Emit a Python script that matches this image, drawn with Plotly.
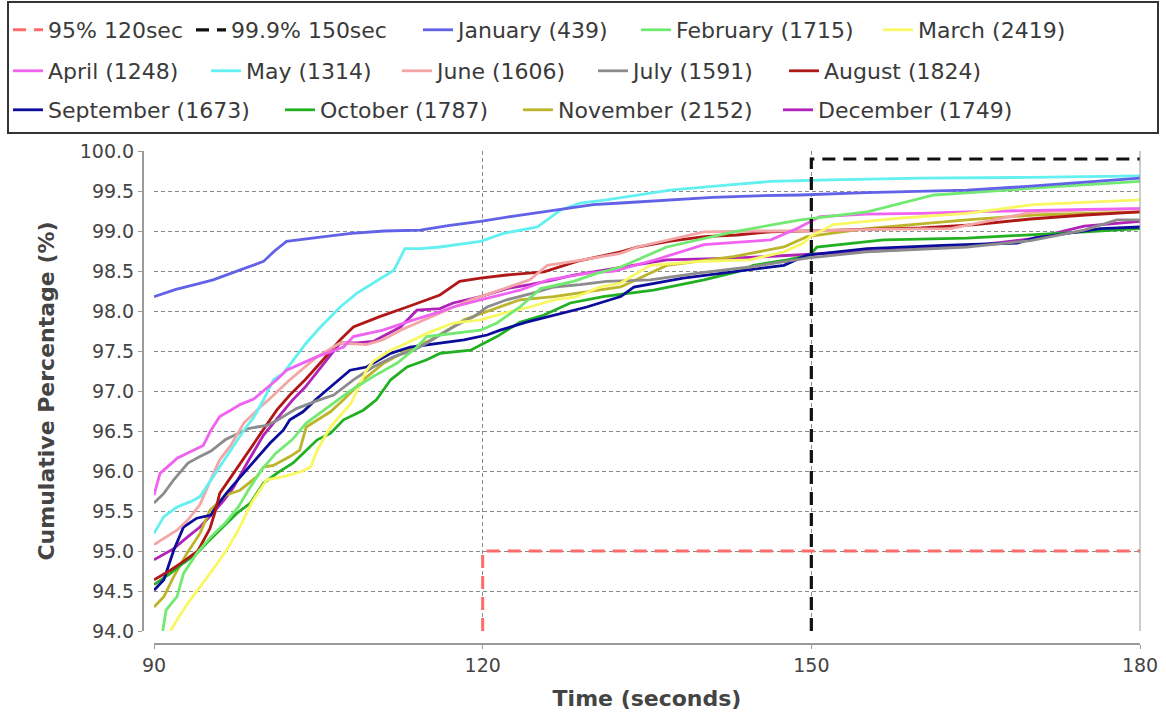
import plotly.graph_objects as go

# ---------------- data ----------------
thr95_x = [120, 120, 180]
thr95_y = [94.0, 95.0, 95.0]
thr999_x = [150, 150, 180]
thr999_y = [94.0, 99.9, 99.9]

jan_x = [90, 92, 94, 95.4, 98, 100, 101, 102.1, 105, 108, 111, 114.3, 117, 119.8, 123, 126.5, 130.1, 132.6, 137.1, 141, 145, 149, 155, 160, 164.2, 170, 175, 180]
jan_y = [98.18, 98.27, 98.34, 98.39, 98.52, 98.62, 98.75, 98.87, 98.92, 98.97, 99.0, 99.01, 99.07, 99.12, 99.19, 99.26, 99.33, 99.35, 99.39, 99.42, 99.44, 99.45, 99.48, 99.50, 99.51, 99.56, 99.61, 99.66]

feb_x = [90.8, 91.1, 92.1, 92.7, 93.9, 95.2, 96.5, 97.7, 98.6, 99.8, 101.1, 102.6, 103.9, 105.5, 108.0, 110.0, 112.2, 114.0, 114.9, 116.1, 119.8, 121.3, 123.4, 125.3, 128.3, 130.4, 132.6, 136.8, 142.9, 149.0, 155.1, 161.2, 167.3, 173, 180]
feb_y = [94.0, 94.26, 94.43, 94.72, 94.97, 95.18, 95.35, 95.55, 95.76, 96.01, 96.22, 96.39, 96.6, 96.76, 97.01, 97.18, 97.35, 97.55, 97.68, 97.7, 97.76, 97.85, 98.05, 98.28, 98.37, 98.47, 98.55, 98.8, 98.99, 99.14, 99.24, 99.45, 99.51, 99.56, 99.62]

mar_x = [91.5, 92.1, 93.1, 94.0, 94.9, 95.8, 96.8, 97.7, 98.3, 98.9, 99.6, 100.3, 101.8, 103.4, 104.3, 104.9, 106.1, 108.0, 109.4, 110.0, 111.6, 113.1, 114.9, 117.3, 119.8, 121.9, 124.3, 126.5, 128.6, 130.7, 132.6, 135.3, 139.9, 144.4, 147.5, 149.3, 149.9, 152.0, 158.1, 164.2, 170.3, 175, 180]
mar_y = [94.0, 94.14, 94.35, 94.51, 94.68, 94.85, 95.05, 95.26, 95.43, 95.6, 95.75, 95.89, 95.93, 95.99, 96.05, 96.26, 96.55, 96.85, 97.26, 97.37, 97.51, 97.6, 97.72, 97.85, 97.89, 97.97, 98.05, 98.14, 98.18, 98.3, 98.35, 98.57, 98.62, 98.64, 98.74, 98.85, 98.93, 99.08, 99.16, 99.22, 99.33, 99.36, 99.39]

apr_x = [90, 90.55, 91.8, 92.1, 93.6, 94.5, 95.2, 96.0, 97.0, 97.85, 99.1, 100.0, 101.2, 102.1, 103.5, 104.9, 107.3, 108.2, 110.9, 113.7, 116.1, 117.3, 119.8, 123.4, 126, 129.5, 132, 136, 140.2, 144, 146.3, 148.7, 150.8, 155, 160, 164.2, 170, 175, 180]
apr_y = [95.7, 95.97, 96.12, 96.16, 96.26, 96.32, 96.51, 96.68, 96.76, 96.83, 96.9, 97.0, 97.14, 97.26, 97.35, 97.43, 97.55, 97.68, 97.76, 97.89, 97.99, 98.05, 98.14, 98.26, 98.39, 98.47, 98.5, 98.65, 98.83, 98.87, 98.89, 99.03, 99.18, 99.21, 99.22, 99.24, 99.26, 99.27, 99.28]

may_x = [90, 90.9, 92.1, 93.4, 94.2, 95.0, 96.0, 97.2, 98.2, 99.1, 100.0, 100.9, 101.8, 103.9, 105.2, 107.0, 108.5, 110.0, 111.9, 112.9, 114.3, 116.1, 118.9, 119.8, 121.9, 125.0, 127.1, 128.9, 131.3, 137.1, 142, 146.3, 151.7, 160, 170, 180]
may_y = [95.22, 95.43, 95.55, 95.62, 95.68, 95.85, 96.05, 96.30, 96.51, 96.67, 96.89, 97.14, 97.22, 97.60, 97.80, 98.05, 98.22, 98.35, 98.51, 98.78, 98.78, 98.80, 98.85, 98.87, 98.97, 99.05, 99.26, 99.35, 99.39, 99.51, 99.57, 99.62, 99.64, 99.66, 99.67, 99.69]

jun_x = [90, 91.1, 92.1, 93.1, 94.2, 95.3, 96.0, 97.0, 98.2, 99.7, 100.3, 102.4, 104.9, 107.0, 109.4, 110.9, 112.5, 114.0, 116.1, 118.9, 120.7, 124.3, 125.9, 128.3, 132.6, 134.1, 140.2, 145, 149.9, 156, 162.7, 170.3, 175, 180]
jun_y = [95.08, 95.18, 95.26, 95.39, 95.58, 95.93, 96.14, 96.32, 96.6, 96.8, 96.87, 97.14, 97.43, 97.6, 97.58, 97.64, 97.76, 97.85, 97.97, 98.14, 98.22, 98.39, 98.57, 98.62, 98.72, 98.8, 98.99, 99.0, 99.0, 99.02, 99.03, 99.24, 99.26, 99.28]

jul_x = [90, 90.9, 91.8, 93.1, 94.2, 95.2, 96.5, 97.6, 98.6, 99.4, 100.3, 101.2, 101.8, 103.0, 104.9, 106.4, 108.2, 110.0, 111.9, 113.7, 114.9, 117.3, 119.2, 120.4, 122.2, 124.5, 126.5, 128.9, 131.3, 135.3, 140, 144.4, 149.6, 155, 164.2, 170, 174.9, 177.9, 180]
jul_y = [95.6, 95.72, 95.89, 96.1, 96.18, 96.25, 96.39, 96.46, 96.53, 96.55, 96.57, 96.63, 96.68, 96.78, 96.88, 96.95, 97.14, 97.3, 97.43, 97.51, 97.6, 97.8, 97.93, 98.05, 98.14, 98.22, 98.3, 98.33, 98.37, 98.39, 98.48, 98.55, 98.66, 98.74, 98.8, 98.88, 99.01, 99.14, 99.14]

aug_x = [90, 91.5, 92.7, 94.0, 95.1, 95.6, 96.0, 96.9, 98.2, 99.4, 100.3, 101.2, 102.4, 103.8, 105.5, 107.0, 108.2, 110.6, 113.1, 116.1, 117.9, 119.8, 122.2, 125.6, 128.6, 130.7, 132.6, 134.1, 137, 140.2, 143.2, 146.3, 150, 155, 160, 165, 170, 175, 180]
aug_y = [94.64, 94.76, 94.87, 95.0, 95.28, 95.5, 95.72, 95.9, 96.16, 96.41, 96.58, 96.76, 96.95, 97.14, 97.4, 97.64, 97.8, 97.93, 98.05, 98.2, 98.37, 98.41, 98.45, 98.49, 98.62, 98.68, 98.74, 98.8, 98.87, 98.93, 98.95, 98.99, 99.0, 99.02, 99.04, 99.08, 99.15, 99.2, 99.24]

sep_x = [90, 90.9, 91.8, 92.7, 93.9, 95.2, 95.7, 96.6, 97.9, 99.4, 100.6, 101.8, 102.4, 103.6, 104.9, 106.1, 107.9, 109.4, 111.6, 113.4, 116.4, 118.3, 120.4, 121.6, 124, 126.5, 129.5, 132.6, 133.8, 138.3, 142.9, 147.5, 149.6, 155.1, 162, 168.8, 170.3, 176.4, 180]
sep_y = [94.51, 94.64, 95.01, 95.3, 95.41, 95.45, 95.56, 95.72, 95.93, 96.16, 96.35, 96.51, 96.64, 96.74, 96.91, 97.05, 97.26, 97.3, 97.47, 97.55, 97.6, 97.64, 97.7, 97.76, 97.86, 97.95, 98.05, 98.18, 98.3, 98.41, 98.49, 98.57, 98.7, 98.78, 98.82, 98.85, 98.91, 99.03, 99.05]

oct_x = [90, 91.5, 92.7, 93.9, 95.1, 96.3, 97.55, 98.8, 100.0, 101.3, 102.7, 103.6, 104.9, 106.1, 107.3, 109.1, 110.3, 111.6, 113.1, 114.9, 116.1, 118.9, 121.3, 123.4, 125.6, 128.0, 131.0, 135.6, 140.2, 143.2, 144.7, 147.8, 149.9, 150.5, 156.6, 164.2, 170, 175, 180]
oct_y = [94.58, 94.72, 94.85, 94.97, 95.14, 95.3, 95.47, 95.6, 95.85, 95.98, 96.1, 96.22, 96.39, 96.47, 96.64, 96.76, 96.89, 97.14, 97.3, 97.39, 97.47, 97.51, 97.68, 97.86, 97.95, 98.1, 98.18, 98.26, 98.39, 98.49, 98.57, 98.64, 98.7, 98.8, 98.89, 98.91, 98.95, 98.99, 99.03]

nov_x = [90, 90.9, 91.2, 91.8, 93.0, 94.2, 95.1, 96.6, 97.85, 99.4, 100.0, 100.9, 102.4, 103.3, 103.9, 104.9, 106.1, 107.3, 109.1, 111, 113, 115, 117.3, 118.3, 120.7, 123.4, 126.5, 129.5, 132.6, 136.8, 142.9, 147.5, 149.6, 155, 164.2, 170.3, 175, 180]
nov_y = [94.3, 94.43, 94.51, 94.68, 94.97, 95.22, 95.51, 95.7, 95.76, 95.93, 96.05, 96.07, 96.18, 96.26, 96.55, 96.64, 96.74, 96.89, 97.14, 97.35, 97.5, 97.62, 97.8, 97.89, 98.01, 98.14, 98.18, 98.24, 98.3, 98.57, 98.68, 98.8, 98.93, 99.03, 99.14, 99.2, 99.22, 99.24]

dec_x = [90, 91.8, 93.1, 94.2, 95.2, 96.3, 97.2, 98.5, 100, 101.5, 102.6, 103.8, 105.5, 107.0, 108.5, 110.0, 112.5, 114.0, 116.1, 117.3, 119.8, 122.2, 124.3, 126.5, 128.3, 130.1, 132.6, 136.8, 142.9, 149.0, 155, 160, 165, 170, 174.9, 180]
dec_y = [94.89, 95.03, 95.18, 95.3, 95.45, 95.62, 95.78, 96.1, 96.45, 96.7, 96.88, 97.05, 97.35, 97.6, 97.6, 97.62, 97.8, 98.01, 98.03, 98.1, 98.18, 98.28, 98.33, 98.39, 98.45, 98.49, 98.55, 98.64, 98.66, 98.7, 98.74, 98.78, 98.82, 98.9, 99.06, 99.12]

month_names = ["January (439)", "February (1715)", "March (2419)", "April (1248)",
               "May (1314)", "June (1606)", "July (1591)", "August (1824)",
               "September (1673)", "October (1787)", "November (2152)", "December (1749)"]
month_colors = ["#6262e8", "#72ea72", "#f8f862", "#f062f0", "#62f0f0", "#f4a6a6",
                "#8c8c8c", "#b01818", "#0c0c9c", "#22b022", "#bcb42a", "#b022b8"]
month_xs = [jan_x, feb_x, mar_x, apr_x, may_x, jun_x, jul_x, aug_x, sep_x, oct_x, nov_x, dec_x]
month_ys = [jan_y, feb_y, mar_y, apr_y, may_y, jun_y, jul_y, aug_y, sep_y, oct_y, nov_y, dec_y]

x_ticks = [90, 120, 150, 180]
y_ticks = [94.0, 94.5, 95.0, 95.5, 96.0, 96.5, 97.0, 97.5, 98.0, 98.5, 99.0, 99.5, 100.0]

# ---------------- figure geometry ----------------
W, H = 1166, 718
ML, MR, MT, MB = 143, 26, 151, 74
PW = W - ML - MR
PH = H - MT - MB
FONT = "DejaVu Sans"

def px_x(px):
    return (px - ML) / PW

def px_y(py):
    return (H - MB - py) / PH

# legend layout (flow layout of the reference: text start x per item, row centre y)
legend_slots = [  # (text start px, row centre px) in legend order
    (48, 30), (231, 30), (458, 30), (676, 30), (918, 30),
    (48, 71), (246, 71), (437, 71), (633, 71), (824, 71),
    (48, 110), (320, 110), (558, 110), (818, 110),
]

fig = go.Figure()

def legend_id(k):
    return "legend" if k == 0 else f"legend{k + 1}"

# months drawn in reverse so that earlier series sit on top
for i in reversed(range(12)):
    fig.add_trace(go.Scatter(
        x=month_xs[i], y=month_ys[i], mode="lines", name=month_names[i],
        line=dict(color=month_colors[i], width=2.8), legend=legend_id(i + 2),
        showlegend=True))

fig.add_trace(go.Scatter(x=thr999_x, y=thr999_y, mode="lines", name="99.9% 150sec",
                         line=dict(color="#111111", width=3.2, dash="13px,8px"),
                         legend=legend_id(1)))
fig.add_trace(go.Scatter(x=thr95_x, y=thr95_y, mode="lines", name="95% 120sec",
                         line=dict(color="#ff6b6b", width=3.0, dash="13px,8px"),
                         legend=legend_id(0)))

legend_layouts = {}
for k, (tx, cy) in enumerate(legend_slots):
    legend_layouts[legend_id(k)] = dict(
        orientation="h", x=px_x(tx - 40), xanchor="left",
        y=px_y(cy), yanchor="middle",
        font=dict(family=FONT, size=22, color="#3a3a3a"),
        bgcolor="rgba(0,0,0,0)", borderwidth=0, itemwidth=30)

grid = "#8a8a8a"
fig.update_layout(
    width=W, height=H,
    margin=dict(l=ML, r=MR, t=MT, b=MB, pad=0, autoexpand=False),
    paper_bgcolor="white", plot_bgcolor="white",
    font=dict(family=FONT, color="#444444"),
    showlegend=True,
    xaxis=dict(range=[90, 180], tickvals=x_ticks, domain=[11 / PW, 1],
               anchor="free", position=0,
               showline=True, linecolor="#9a9a9a", linewidth=2,
               ticks="outside", ticklen=4, tickcolor="#9a9a9a",
               tickfont=dict(family=FONT, size=19, color="#444444"),
               showgrid=True, gridcolor=grid, gridwidth=1, griddash="4px,3px",
               zeroline=False,
               title=dict(text="Time (seconds)", standoff=15,
                          font=dict(family=FONT, size=22, color="#444444", weight="bold"))),
    yaxis=dict(range=[94, 100], tickvals=y_ticks, tickformat=".1f",
               domain=[13 / PH, 1], anchor="free", position=0,
               showline=True, linecolor="#9a9a9a", linewidth=2,
               ticks="outside", ticklen=4, tickcolor="#9a9a9a",
               tickfont=dict(family=FONT, size=19, color="#444444"),
               showgrid=True, gridcolor=grid, gridwidth=1, griddash="4px,3px",
               zeroline=False,
               title=dict(text="Cumulative Percentage (%)", standoff=18,
                          font=dict(family=FONT, size=22, color="#444444", weight="bold"))),
    shapes=[
        # legend frame
        dict(type="rect", xref="paper", yref="paper",
             x0=px_x(8), x1=px_x(1158), y0=px_y(133), y1=px_y(2),
             line=dict(color="#333333", width=2), fillcolor="rgba(0,0,0,0)", layer="below"),
        # right plot outline
        dict(type="line", xref="x domain", yref="y domain", x0=1, x1=1, y0=0, y1=1,
             line=dict(color="#9a9a9a", width=1)),
    ],
    **legend_layouts,
)

fig.write_html("out.html")
